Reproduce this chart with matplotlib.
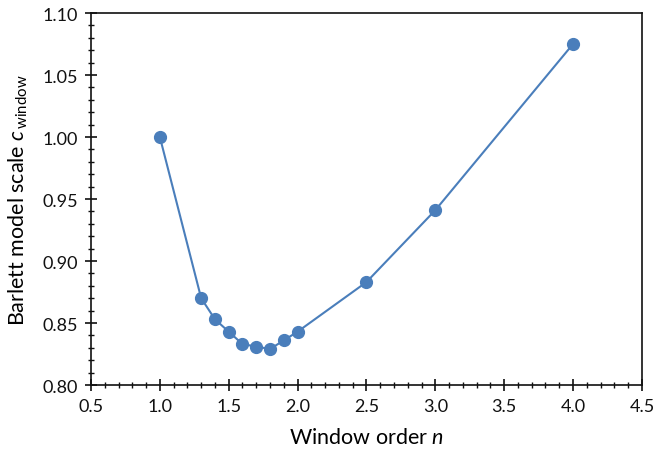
import matplotlib
matplotlib.use("Agg")
import matplotlib.pyplot as plt
from matplotlib.ticker import MultipleLocator, FormatStrFormatter

plt.rcParams["font.family"] = ["Lato", "DejaVu Sans"]
plt.rcParams["mathtext.fontset"] = "custom"
plt.rcParams["mathtext.rm"] = "Lato"
plt.rcParams["mathtext.it"] = "Lato:italic"

window_order = [1.0, 1.3, 1.4, 1.5, 1.6, 1.7, 1.8, 1.9, 2.0, 2.5, 3.0, 4.0]
scale_c = [1.000, 0.870, 0.853, 0.843, 0.833, 0.831, 0.829, 0.836, 0.843, 0.883, 0.941, 1.075]

BLUE = "#4a7ebb"

fig = plt.figure(figsize=(6.57, 4.52), dpi=100)
ax = fig.add_axes([0.1385, 0.146, 0.8385, 0.823])

ax.plot(window_order, scale_c, color=BLUE, lw=1.5, marker="o", ms=8.5,
        markerfacecolor=BLUE, markeredgecolor=BLUE)

ax.set_xlim(0.5, 4.5)
ax.set_ylim(0.80, 1.10)
ax.xaxis.set_major_locator(MultipleLocator(0.5))
ax.xaxis.set_minor_locator(MultipleLocator(0.1))
ax.yaxis.set_major_locator(MultipleLocator(0.05))
ax.yaxis.set_minor_locator(MultipleLocator(0.01))
ax.xaxis.set_major_formatter(FormatStrFormatter("%.1f"))
ax.yaxis.set_major_formatter(FormatStrFormatter("%.2f"))

ax.tick_params(which="major", direction="inout", length=9, width=1.2,
               labelsize=13, colors="#111111", pad=5)
ax.tick_params(which="minor", direction="inout", length=5, width=1.0,
               colors="#111111")
for s in ax.spines.values():
    s.set_linewidth(1.2)
    s.set_color("#111111")

ax.set_xlabel(r"Window order $\mathit{n}$", fontsize=15.5, labelpad=9)
ax.set_ylabel(r"Barlett model scale $\mathit{c}_{\,\mathrm{window}}$", fontsize=15.5, labelpad=9)

fig.savefig("out.png", dpi=100, facecolor="white")
